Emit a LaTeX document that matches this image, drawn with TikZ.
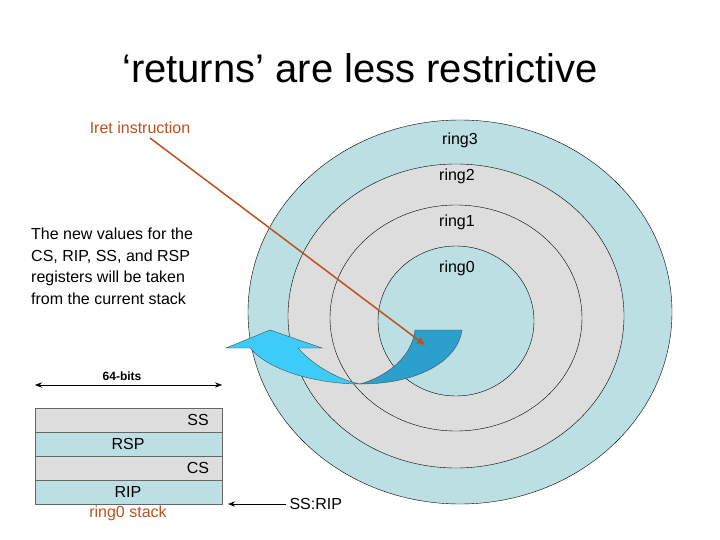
\documentclass[tikz,border=0pt]{standalone}
\usepackage{fontspec}
\setmainfont{Liberation Sans}
\usetikzlibrary{arrows.meta}
\definecolor{ringblue}{HTML}{BCDFE4}
\definecolor{ringgray}{HTML}{DDDDDD}
\definecolor{rust}{HTML}{C0501C}
\definecolor{darkarrow}{HTML}{2BA0CC}
\definecolor{lightarrow}{HTML}{3DCCFA}
\begin{document}
\begin{tikzpicture}[x=1pt,y=-1pt,
  ringlab/.style={font=\fontsize{16}{19}\selectfont},
  cellb/.style={draw=black!60,fill=ringblue,minimum width=187pt,minimum height=24pt,inner sep=0pt},
  cellg/.style={draw=black!60,fill=ringgray,minimum width=187pt,minimum height=24pt,inner sep=0pt}]
\useasboundingbox (0,0) rectangle (720,540);
\node (title) at (360,68) {\fontsize{40}{46}\selectfont ‘returns’ are less restrictive};
\begin{scope}[draw=black,thin]
\filldraw[fill=ringblue] (460,312) ellipse [x radius=212, y radius=192];
\filldraw[fill=ringgray] (456,316) ellipse [x radius=168, y radius=152];
\filldraw[fill=ringgray] (456,318) ellipse [x radius=126, y radius=113];
\filldraw[fill=ringblue] (456,321) ellipse [x radius=78, y radius=75];
\end{scope}
\node[ringlab] (r3) at (460,140) {ring3};
\node[ringlab] (r2) at (457,176) {ring2};
\node[ringlab] (r1) at (457,222) {ring1};
\node[ringlab] (r0) at (457,268) {ring0};
% curved arrow
\filldraw[draw=black!70,fill=darkarrow] (415,330) -- (462,330) .. controls (458,360) and (420,384) .. (360,384) .. controls (385,377) and (412,358) .. (415,330) -- cycle;
\filldraw[draw=black!70,fill=lightarrow] (360,384) .. controls (320,384) and (270,372) .. (250,348) -- (226,348) -- (270,330) -- (322,348) -- (298,348) .. controls (315,367) and (340,380) .. (360,384) -- cycle;
\coordinate (iretstart) at (150,138);
\coordinate (iretend) at (425,345);
\node[text=rust,ringlab] (iret) at (140,128) {Iret instruction};
\draw[rust,line width=1.5pt,-{Triangle[length=8pt,width=7pt]}] (iretstart) -- (iretend);
\node[align=left,anchor=north west,font=\fontsize{16}{21.5}\selectfont,inner sep=0pt] (txt) at (31,228) {The new values for the\\CS, RIP, SS, and RSP\\registers will be taken\\from the current stack};
% stack
\node[cellg] (ss) at (128.5,420) {};
\node[cellb] (rsp) at (128.5,444) {};
\node[cellg] (cs) at (128.5,468) {};
\node[cellb] (rip) at (128.5,492) {};
\node[ringlab] (ssl) at (198,420) {SS};
\node[ringlab] (rspl) at (128,444) {RSP};
\node[ringlab] (csl) at (198,468) {CS};
\node[ringlab] (ripl) at (128,492) {RIP};
\node[text=rust,ringlab] (stk) at (128,513) {ring0 stack};
\coordinate (bl) at (35,385);
\coordinate (br) at (222,385);
\draw[{Stealth[length=7pt]}-{Stealth[length=7pt]}] (bl) -- (br);
\node[font=\bfseries\fontsize{12}{14}\selectfont] (bits) at (122,376) {64-bits};
\node[ringlab,anchor=west] (ssrip) at (286,504) {SS:RIP};
\coordinate (ripin) at (228,504);
\draw[line width=1pt,-{Stealth[length=7pt]}] (ssrip.west) -- (ripin);
\end{tikzpicture}
\end{document}
